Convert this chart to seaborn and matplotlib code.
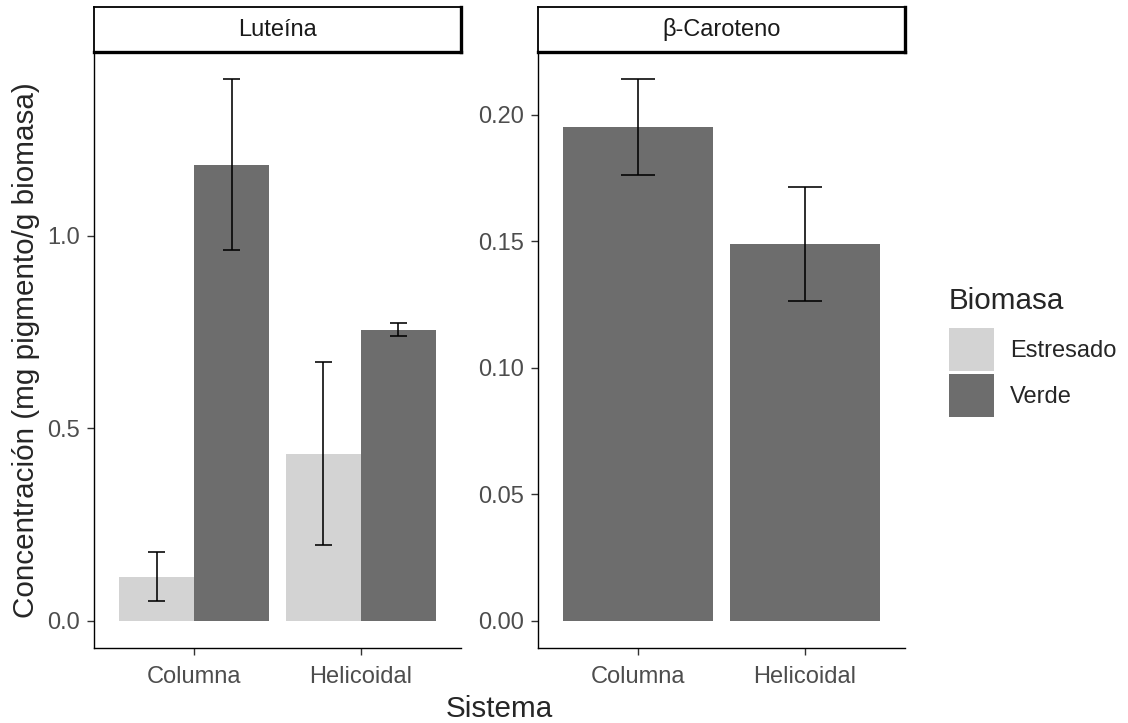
import numpy as np
import pandas as pd
import matplotlib
matplotlib.use("Agg")
import matplotlib.pyplot as plt
from matplotlib.ticker import FormatStrFormatter
import seaborn as sns

# ---------------- data ----------------
sistemas = ["Columna", "Helicoidal"]
biomasas = ["Estresado", "Verde"]
luteina_estresado = [0.115, 0.434]
luteina_estresado_err = [0.063, 0.237]
luteina_verde = [1.184, 0.756]
luteina_verde_err = [0.222, 0.016]
caroteno_verde = [0.195, 0.149]
caroteno_verde_err = [0.019, 0.0225]
paneles = ["Luteína", "β-Caroteno"]
titulo_y = "Concentración (mg pigmento/g biomasa)"
titulo_x = "Sistema"
titulo_leyenda = "Biomasa"

# ---------------- style ----------------
sns.set_style("ticks")
plt.rcParams["font.family"] = ["Liberation Sans", "DejaVu Sans"]
colores = {"Estresado": "#D3D3D3", "Verde": "#6D6D6D"}
TICK_FS = 17
TITLE_FS = 21.3
TICK_COL = "#4D4D4D"

lut = pd.DataFrame({
    "Sistema": sistemas * 2,
    "Biomasa": ["Estresado"] * len(sistemas) + ["Verde"] * len(sistemas),
    "valor": luteina_estresado + luteina_verde,
    "err": luteina_estresado_err + luteina_verde_err,
})
car = pd.DataFrame({
    "Sistema": sistemas,
    "Biomasa": ["Verde"] * len(sistemas),
    "valor": caroteno_verde,
    "err": caroteno_verde_err,
})

W, H = 1128, 723
fig = plt.figure(figsize=(W / 100, H / 100), dpi=100)
pw = 367 / W
ph = 596 / H
pb = (H - 648) / H
ax1 = fig.add_axes([94 / W, pb, pw, ph])
ax2 = fig.add_axes([538 / W, pb, pw, ph])

sns.barplot(data=lut, x="Sistema", y="valor", hue="Biomasa", order=sistemas,
            hue_order=biomasas, palette=colores, width=0.9, errorbar=None,
            saturation=1, linewidth=0, ax=ax1)
sns.barplot(data=car, x="Sistema", y="valor", order=sistemas,
            color=colores["Verde"], width=0.9, errorbar=None,
            saturation=1, linewidth=0, ax=ax2)

CAP = 0.2 / 0.9


def add_errorbars(ax, df, levels):
    for cont, level in zip(ax.containers, levels):
        sub = df[df.Biomasa == level].set_index("Sistema").loc[sistemas]
        for bar, (_, row) in zip(cont.patches, sub.iterrows()):
            xc = bar.get_x() + bar.get_width() / 2
            half = bar.get_width() * CAP / 2
            lo, hi = row.valor - row.err, row.valor + row.err
            ax.vlines(xc, lo, hi, color="black", lw=1.15, zorder=5)
            ax.hlines([lo, hi], xc - half, xc + half, color="black", lw=1.15, zorder=5)


add_errorbars(ax1, lut, biomasas)
add_errorbars(ax2, car, ["Verde"])


def expand(df):
    lo = min(0, (df.valor - df.err).min())
    hi = (df.valor + df.err).max()
    span = hi - lo
    return lo - 0.05 * span, hi + 0.05 * span


ax1.set_ylim(*expand(lut))
ax2.set_ylim(*expand(car))
ax1.set_yticks([0, 0.5, 1.0])
ax1.yaxis.set_major_formatter(FormatStrFormatter("%.1f"))
ax2.set_yticks([0, 0.05, 0.10, 0.15, 0.20])
ax2.yaxis.set_major_formatter(FormatStrFormatter("%.2f"))

for ax in (ax1, ax2):
    ax.set_xlim(-0.6, 1.6)
    ax.set_xlabel("")
    ax.set_ylabel("")
    for s in ("top", "right"):
        ax.spines[s].set_visible(False)
    for s in ("left", "bottom"):
        ax.spines[s].set_color("black")
        ax.spines[s].set_linewidth(1.0)
    ax.tick_params(axis="both", length=5, width=1, color="#333333",
                   labelsize=TICK_FS, labelcolor=TICK_COL, pad=5)
    ax.tick_params(axis="x", pad=8)

# strips
for ax, name in zip((ax1, ax2), paneles):
    pos = ax.get_position()
    sax = fig.add_axes([pos.x0, (H - 52) / H, pos.width, 45 / H])
    sax.set_xticks([])
    sax.set_yticks([])
    sax.set_facecolor("white")
    for s in ("left", "top"):
        sax.spines[s].set_linewidth(1.3)
        sax.spines[s].set_color("black")
    for s in ("right", "bottom"):
        sax.spines[s].set_linewidth(2.4)
        sax.spines[s].set_color("black")
    sax.text(0.5, 0.5, name, ha="center", va="center", fontsize=TICK_FS,
             color="#1A1A1A", transform=sax.transAxes)

# axis titles
cx = (ax1.get_position().x0 + ax2.get_position().x1) / 2
fig.text(cx, (H - 709) / H, titulo_x, ha="center", va="center", fontsize=TITLE_FS)
fig.text(26 / W, (H - 350) / H, titulo_y, ha="center", va="center",
         rotation=90, fontsize=TITLE_FS)

# legend (handles from seaborn, title drawn separately)
old = ax1.get_legend()
handles = list(old.legend_handles)
labels = [t.get_text() for t in old.texts]
old.remove()
for h in handles:
    h.set_linewidth(0)
fig.legend(handles, labels, loc="upper left",
           bbox_to_anchor=(949 / W, (H - 328) / H),
           bbox_transform=fig.transFigure, frameon=False,
           fontsize=TICK_FS, handlelength=1.906, handleheight=2.43,
           labelspacing=0.12, handletextpad=0.68,
           borderpad=0, borderaxespad=0)
fig.text(949 / W, (H - 301) / H, titulo_leyenda, ha="left", va="center",
         fontsize=TITLE_FS)

fig.savefig("out.png", dpi=100)
